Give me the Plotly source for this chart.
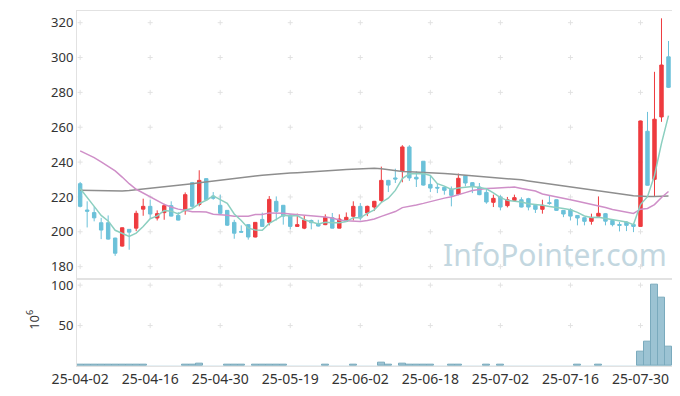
import plotly.graph_objects as go
import pandas as pd

# ---- trading dates (KRX, 2025) ----
holidays = ["2025-05-01", "2025-05-05", "2025-05-06", "2025-06-03", "2025-06-06"]
dates = [d.strftime("%y-%m-%d") for d in pd.bdate_range("2025-04-02", "2025-08-05")
         if d.strftime("%Y-%m-%d") not in holidays]

# ---- OHLC ----
opens = [227.6, 212.5, 211.0, 205.2, 205.2, 196.4, 191.8, 201.4, 202.1, 213.0,
         214.6, 207.9, 211.0, 215.0, 209.4, 212.1, 228.2, 215.7, 230.5, 220.5,
         215.2, 212.3, 205.4, 200.2, 204.1, 197.0, 207.1, 205.4, 217.5, 215.2,
         209.6, 203.1, 202.1, 206.5, 204.6, 204.1, 208.1, 202.1, 206.1, 208.9,
         214.6, 210.8, 214.2, 218.0, 229.5, 230.9, 234.7, 248.7, 231.3, 240.5,
         227.2, 225.5, 225.5, 224.4, 221.5, 232.2, 228.2, 225.7, 222.6, 216.9,
         220.0, 215.0, 218.0, 218.4, 219.0, 215.2, 212.9, 216.7, 218.4, 212.3,
         212.7, 209.4, 208.1, 206.0, 208.9, 210.4, 206.5, 204.2, 205.6, 204.2,
         203.1, 257.7, 230.1, 265.9, 300.4]
highs = [228.6, 217.5, 214.5, 208.0, 209.4, 196.6, 202.5, 201.5, 212.1, 219.0,
         218.4, 212.3, 216.1, 217.5, 211.3, 222.6, 228.6, 235.3, 230.7, 222.8,
         221.3, 212.5, 206.9, 203.7, 204.3, 205.6, 211.0, 220.5, 220.3, 215.4,
         210.0, 210.4, 209.4, 207.0, 206.9, 210.0, 210.8, 210.0, 211.1, 217.5,
         216.5, 215.0, 217.7, 237.4, 229.8, 236.2, 249.7, 249.7, 234.7, 240.6,
         232.4, 228.0, 226.0, 226.0, 233.4, 232.5, 228.5, 228.0, 225.1, 221.3,
         221.0, 220.0, 221.3, 219.8, 219.5, 215.5, 218.4, 220.9, 218.6, 212.5,
         213.5, 209.6, 208.3, 210.4, 220.3, 210.8, 207.0, 205.6, 206.0, 205.0,
         263.8, 268.8, 291.8, 322.5, 309.5]
lows = [214.0, 202.5, 206.0, 195.8, 195.5, 186.2, 191.5, 189.7, 200.4, 209.2,
        207.5, 206.5, 206.9, 208.8, 206.5, 209.8, 213.0, 214.6, 218.0, 218.4,
        210.0, 203.3, 196.0, 199.5, 195.5, 196.8, 202.8, 203.7, 206.5, 204.1,
        201.4, 203.0, 201.5, 201.4, 203.0, 203.8, 202.0, 202.0, 205.8, 206.5,
        206.5, 209.0, 211.9, 217.0, 222.8, 228.0, 228.4, 229.2, 225.7, 226.5,
        222.8, 222.2, 221.3, 214.6, 221.0, 226.1, 222.2, 221.0, 216.1, 214.2,
        212.3, 214.0, 217.1, 214.0, 212.3, 210.8, 210.4, 215.5, 212.0, 208.4,
        206.5, 203.7, 203.7, 204.1, 208.1, 203.7, 203.1, 200.2, 200.4, 199.8,
        203.0, 226.5, 220.0, 263.1, 282.5]
closes = [214.6, 211.8, 208.0, 201.0, 195.8, 187.7, 202.3, 199.8, 210.6, 214.6,
          210.2, 210.4, 215.0, 209.0, 206.7, 221.3, 214.6, 229.5, 218.4, 219.2,
          210.6, 203.8, 199.2, 199.8, 197.0, 205.4, 203.1, 218.6, 211.7, 209.0,
          203.1, 204.1, 206.7, 205.2, 203.3, 208.3, 202.1, 207.3, 208.3, 214.6,
          207.9, 214.6, 217.5, 229.5, 226.8, 230.3, 248.7, 230.9, 230.3, 226.8,
          225.1, 225.1, 223.8, 220.9, 230.7, 228.0, 226.3, 221.3, 217.1, 219.2,
          214.2, 218.4, 219.6, 214.2, 214.2, 212.9, 215.2, 216.3, 212.3, 210.2,
          209.0, 207.9, 206.0, 208.1, 210.6, 206.1, 204.1, 203.7, 203.7, 203.1,
          263.6, 226.7, 264.6, 295.7, 282.9]

# volume in millions (10^6)
volumes = [1.5, 1.5, 1.5, 1.5, 1.5, 1.5, 1.5, 1.5, 1.5, 1.5,
           0.3, 0.3, 0.3, 0.3, 0.3, 1.5, 1.5, 3.0, 0.3, 0.3,
           0.3, 1.5, 1.5, 1.5, 0.3, 1.5, 1.5, 1.5, 1.5, 1.5,
           0.3, 0.3, 0.3, 0.3, 0.3, 1.5, 0.3, 0.3, 0.3, 1.5,
           0.3, 0.3, 0.3, 4.5, 1.5, 0.3, 3.0, 1.5, 1.5, 1.5,
           1.5, 0.3, 0.3, 1.5, 1.5, 0.3, 0.3, 0.3, 1.5, 0.3,
           1.5, 0.3, 0.3, 0.3, 0.3, 0.3, 0.3, 0.3, 0.3, 0.3,
           0.3, 1.5, 0.3, 0.3, 1.5, 0.3, 0.3, 0.3, 0.3, 0.3,
           18.0, 30.5, 100.0, 85.0, 24.0]

# moving-average values before a full window is available
ma5_head = [224.8, 220.0, 214.6, 209.4]
ma20_head = [246.4, 244.5, 242.6, 240.1, 237.6, 234.9, 231.4, 227.6, 224.4, 222.2,
             220.0, 218.0, 215.7, 214.2, 213.0, 212.3, 211.5, 211.5, 211.3]
# long moving average (grey)
ma_long = [223.8, 223.7, 223.6, 223.5, 223.3, 223.2, 223.4, 223.7, 224.1, 224.6,
           225.0, 225.4, 225.8, 226.2, 226.7, 227.1, 227.6, 228.1, 228.6, 229.2,
           229.8, 230.4, 230.8, 231.2, 231.6, 232.0, 232.4, 232.8, 233.1, 233.4,
           233.7, 233.9, 234.1, 234.3, 234.6, 234.9, 235.2, 235.5, 235.8, 236.0,
           236.2, 236.4, 236.5, 236.2, 235.6, 235.0, 234.6, 234.4, 234.3, 234.1,
           233.9, 233.7, 233.5, 233.2, 232.9, 232.6, 232.3, 232.0, 231.6, 231.2,
           230.9, 230.6, 230.3, 229.8, 229.2, 228.6, 228.0, 227.4, 226.8, 226.3,
           225.8, 225.3, 224.8, 224.2, 223.6, 223.0, 222.4, 221.8, 221.2, 220.7,
           220.3, 220.2, 220.3, 220.4, 220.5]

price_ticks = [180, 200, 220, 240, 260, 280, 300, 320]
vol_ticks = [50, 100]
x_tick_idx = list(range(0, 85, 10))

cs = pd.Series(closes)
ma5 = ma5_head + list(cs.rolling(5).mean().iloc[len(ma5_head):])
ma20 = ma20_head + list(cs.rolling(20).mean().iloc[len(ma20_head):])

RED = "#EE3B3F"
BLUE = "#6BC1D9"
GRID = "#e2e2e2"
FRAME = "#e2e2e2"

fig = go.Figure()

fig.add_trace(go.Candlestick(
    x=dates, open=opens, high=highs, low=lows, close=closes,
    increasing=dict(line=dict(color=RED, width=1), fillcolor=RED),
    decreasing=dict(line=dict(color=BLUE, width=1), fillcolor=BLUE),
    whiskerwidth=0, xaxis="x", yaxis="y", hoverinfo="skip"))

vol_line_w = [1 if v >= 1 else 0 for v in volumes]
fig.add_trace(go.Bar(
    x=dates, y=volumes,
    marker=dict(color="#9CC3D3", line=dict(color="#7AAABD", width=vol_line_w)),
    xaxis="x2", yaxis="y2", hoverinfo="skip"))

fig.add_trace(go.Scatter(x=dates, y=ma_long, mode="lines",
                         line=dict(color="#8e8e8e", width=1.5), hoverinfo="skip"))
fig.add_trace(go.Scatter(x=dates, y=ma20, mode="lines",
                         line=dict(color="#CF8FC8", width=1.5), hoverinfo="skip"))
fig.add_trace(go.Scatter(x=dates, y=ma5, mode="lines",
                         line=dict(color="#8CCFC0", width=1.5), hoverinfo="skip"))

# grid "+" marks as shapes below the data
gx = [dates[i] for i in x_tick_idx]
shapes = []
for xr, yr, yt in (("x", "y", price_ticks), ("x2", "y2", vol_ticks)):
    for xv in gx:
        for yv in yt:
            shapes.append(dict(type="line", xref=xr, yref=yr, layer="below",
                               xsizemode="pixel", xanchor=xv, x0=-2.5, x1=2.5,
                               y0=yv, y1=yv, line=dict(color=GRID, width=1)))
            shapes.append(dict(type="line", xref=xr, yref=yr, layer="below",
                               ysizemode="pixel", yanchor=yv, y0=-2.5, y1=2.5,
                               x0=xv, x1=xv, line=dict(color=GRID, width=1)))

xcommon = dict(type="category", categoryorder="array", categoryarray=dates,
               range=[-0.45, 84.5], showgrid=False, zeroline=False, showline=True,
               mirror=True, linecolor=FRAME, ticks="", automargin=False)

# the page body adds an 8px offset, so the figure is 8px smaller than the window
fig.update_layout(
    width=672, height=388,
    margin=dict(l=69, r=8, t=3, b=30),
    paper_bgcolor="white", plot_bgcolor="white",
    showlegend=False, bargap=0,
    font=dict(family="Noto Sans", size=13, color="#333333"),
    shapes=shapes,
    xaxis=dict(domain=[0, 1], anchor="y", showticklabels=False,
               rangeslider=dict(visible=False), **xcommon),
    yaxis=dict(domain=[0.246, 1], anchor="x", range=[173.1, 326.7], tickvals=price_ticks,
               showgrid=False, zeroline=False, showline=True, mirror=True, automargin=False,
               linecolor=FRAME, ticks="", tickfont=dict(size=13, color="#333333")),
    xaxis2=dict(domain=[0, 1], anchor="y2", tickvals=gx, ticktext=gx, tickangle=0,
                tickfont=dict(size=14, color="#333333"), **xcommon),
    yaxis2=dict(domain=[0, 0.246], anchor="x2", range=[0, 108], tickvals=vol_ticks,
                showgrid=False, zeroline=False, showline=True, mirror=True, automargin=False,
                linecolor=FRAME, ticks="", tickfont=dict(size=13, color="#333333")),
    annotations=[
        dict(text="InfoPointer.com", xref="paper", yref="paper", x=0.803, y=0.313,
             xanchor="center", yanchor="middle", showarrow=False,
             font=dict(family="Noto Sans", size=30, color="#C3D7E0")),
        dict(text="10<sup>6</sup>", xref="paper", yref="paper", x=-0.074, y=0.13,
             xanchor="center", yanchor="middle", showarrow=False, textangle=-90,
             font=dict(family="Noto Sans", size=13, color="#333333")),
    ],
)

fig.write_html("out.html")
